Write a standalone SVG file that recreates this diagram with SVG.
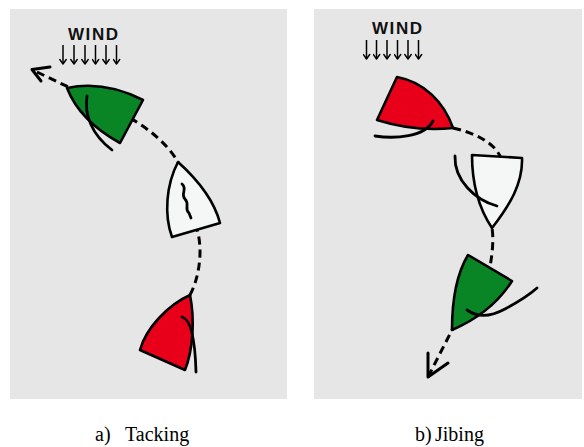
<svg xmlns="http://www.w3.org/2000/svg" width="584" height="447" viewBox="0 0 584 447">
  <defs>
    <style>
      .panel { fill: #e6e6e6; }
      .hull { stroke: #000; stroke-width: 2.6; stroke-linejoin: round; }
      .green { fill: #0a8526; }
      .red { fill: #e8001b; }
      .white { fill: #f5f6f6; }
      .line { fill: none; stroke: #000; stroke-width: 2.8; stroke-linecap: round; }
      .track { fill: none; stroke: #000; stroke-width: 3; stroke-dasharray: 8 5; }
      .head { fill: none; stroke: #000; stroke-width: 3; stroke-linecap: round; stroke-linejoin: round; }
      .gust { stroke: #000; stroke-width: 1.5; }
      .wind { font-family: "Liberation Sans", Arial, sans-serif; font-size: 17px; font-weight: bold; fill: #111; }
      .caption { font-family: "Liberation Serif", "Times New Roman", serif; font-size: 20px; fill: #000; }
    </style>
    <!-- open arrowhead, drawn along +x and turned to follow each gust line -->
    <marker id="tip" viewBox="0 0 8 8" refX="7" refY="4" markerWidth="8" markerHeight="8" markerUnits="userSpaceOnUse" orient="auto">
      <polyline points="2.5,0.8 7,4 2.5,7.2" fill="none" stroke="#000" stroke-width="1.4" stroke-linecap="round" stroke-linejoin="round"/>
    </marker>
  </defs>

  <!-- background panels -->
  <rect class="panel" x="10" y="9" width="277" height="390"/>
  <rect class="panel" x="314" y="9" width="268" height="390"/>

  <!-- wind indicators -->
  <g id="wind-a">
    <text class="wind" x="68" y="40" textLength="50" lengthAdjust="spacing">WIND</text>
    <g class="gust" marker-end="url(#tip)">
      <line x1="63" y1="45" x2="63" y2="64"/>
      <line x1="74" y1="45" x2="74" y2="64"/>
      <line x1="85" y1="45" x2="85" y2="64"/>
      <line x1="95.5" y1="45" x2="95.5" y2="64"/>
      <line x1="106" y1="45" x2="106" y2="64"/>
      <line x1="116.5" y1="45" x2="116.5" y2="64"/>
    </g>
  </g>
  <g id="wind-b">
    <text class="wind" x="372" y="34" textLength="50" lengthAdjust="spacing">WIND</text>
    <g class="gust" marker-end="url(#tip)">
      <line x1="366.5" y1="40" x2="366.5" y2="59"/>
      <line x1="376.5" y1="40" x2="376.5" y2="59"/>
      <line x1="387" y1="40" x2="387" y2="59"/>
      <line x1="397.5" y1="40" x2="397.5" y2="59"/>
      <line x1="408" y1="40" x2="408" y2="59"/>
      <line x1="418.5" y1="40" x2="418.5" y2="59"/>
    </g>
  </g>

  <!-- boat tracks -->
  <g id="connectors">
    <path class="track" d="M 190 295 C 198 280 203 255 198 233 L 178 162 C 165 140 140 120 95 100 C 80 92 55 81 33 70"/>
    <polyline class="head" points="50,67 32,69.5 41,81"/>
    <path class="track" d="M 453 128 C 475 133 493 142 500 156 L 492 228 C 494 240 492 255 490 267 L 452 330 L 428 377"/>
    <polyline class="head" points="428,353 428,377 448,363"/>
  </g>

  <!-- a) tacking -->
  <g id="tack-1">
    <path class="hull red" d="M 190 295 C 168 305 146 328 140 350 L 185 370 C 193 350 195 320 190 295 Z"/>
    <path class="line" d="M 182 317 C 190 319 195 335 196 372"/>
  </g>
  <g id="tack-2">
    <path class="hull white" d="M 178 162 C 198 180 214 200 220 223 L 172 237 C 164 215 166 185 178 162 Z"/>
    <path class="line" d="M 182 184 C 188 189 180 194 185 199 C 190 204 184 209 189 213 L 191 218"/>
  </g>
  <g id="tack-3">
    <path class="hull green" d="M 67 88 Q 104 80 143 100 L 120 143 Q 80 121 67 88 Z"/>
    <path class="line" d="M 87 96 C 84 115 92 135 112 150"/>
  </g>

  <!-- b) jibing -->
  <g id="jibe-1">
    <path class="hull red" d="M 397 77 C 424 82 444 102 453 128 Q 415 132 377 120 Z"/>
    <path class="line" d="M 375 136 C 395 139 425 137 433 121"/>
  </g>
  <g id="jibe-2">
    <path class="hull white" d="M 472 155 L 522 158 C 523 183 510 205 492 228 C 480 210 472 185 472 155 Z"/>
    <path class="line" d="M 455 156 C 454 180 475 200 497 206"/>
  </g>
  <g id="jibe-3">
    <path class="hull green" d="M 468 255 L 512 281 C 500 300 480 318 452 330 C 452 305 456 275 468 255 Z"/>
    <path class="line" d="M 467 310 C 478 318 492 316 505 309 S 528 296 537 288"/>
  </g>

  <!-- captions -->
  <text class="caption" x="95" y="441">a)<tspan x="125">Tacking</tspan></text>
  <text class="caption" x="415" y="441">b)<tspan x="435">Jibing</tspan></text>
</svg>
